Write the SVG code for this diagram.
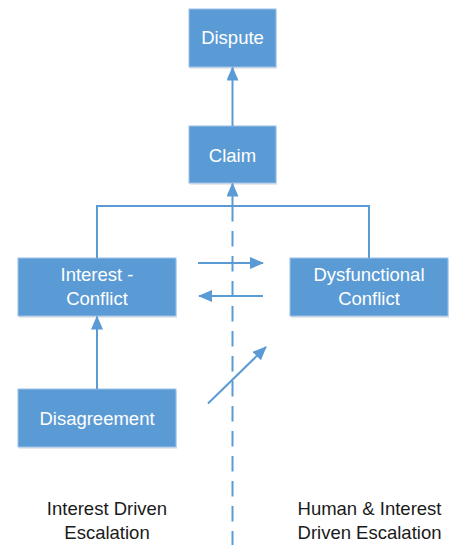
<svg xmlns="http://www.w3.org/2000/svg" width="449" height="545" viewBox="0 0 449 545">
  <style>
    .box { fill: #5B9BD5; stroke: #9CC0E6; stroke-width: 1; }
    .shadow { fill: #D9D9D9; opacity: 0.6; }
    .lbl { font-family: "Liberation Sans", Arial, sans-serif; font-size: 18.5px; fill: #FFFFFF; text-anchor: middle; }
    .cap { font-family: "Liberation Sans", Arial, sans-serif; font-size: 18.5px; fill: #1A1A1A; text-anchor: middle; }
    .link { fill: none; stroke: #5B9BD5; stroke-width: 2; }
    .divider { fill: none; stroke: #5B9BD5; stroke-width: 2; stroke-dasharray: 15.5 9.5; }
  </style>
  <defs>
    <marker id="arrow" viewBox="0 0 14 12" refX="13" refY="6" markerWidth="14" markerHeight="12" markerUnits="userSpaceOnUse" orient="auto">
      <path d="M0,0 L14,6 L0,12 Z" fill="#5B9BD5"/>
    </marker>
  </defs>

  <rect width="449" height="545" fill="#FFFFFF"/>

  <!-- dashed separator between the two escalation zones -->
  <line class="divider" x1="232.5" y1="206" x2="232.5" y2="545"/>

  <g id="node-dispute">
    <rect class="shadow" x="190" y="11" width="87" height="58"/>
    <rect class="box" x="189" y="9" width="87" height="58"/>
    <text class="lbl" x="232.5" y="44">Dispute</text>
  </g>

  <g id="node-claim">
    <rect class="shadow" x="190" y="128" width="87" height="57"/>
    <rect class="box" x="189" y="126" width="87" height="57"/>
    <text class="lbl" x="232.5" y="162">Claim</text>
  </g>

  <g id="node-interest-conflict">
    <rect class="shadow" x="19" y="260" width="158" height="58"/>
    <rect class="box" x="18" y="258" width="158" height="58"/>
    <text class="lbl" x="97" y="281">Interest -</text>
    <text class="lbl" x="97" y="305">Conflict</text>
  </g>

  <g id="node-dysfunctional-conflict">
    <rect class="shadow" x="291" y="260" width="158" height="58"/>
    <rect class="box" x="290" y="258" width="158" height="58"/>
    <text class="lbl" x="369" y="281">Dysfunctional</text>
    <text class="lbl" x="369" y="305">Conflict</text>
  </g>

  <g id="node-disagreement">
    <rect class="shadow" x="19" y="391" width="158" height="58"/>
    <rect class="box" x="18" y="389" width="158" height="58"/>
    <text class="lbl" x="97" y="425">Disagreement</text>
  </g>

  <g id="connectors">
    <line class="link" x1="232.5" y1="126" x2="232.5" y2="67.5" marker-end="url(#arrow)"/>
    <polyline class="link" points="97,258 97,206 369,206 369,258"/>
    <line class="link" x1="232.5" y1="206" x2="232.5" y2="183.5" marker-end="url(#arrow)"/>
    <line class="link" x1="97" y1="389" x2="97" y2="316.5" marker-end="url(#arrow)"/>
    <line class="link" x1="198" y1="263" x2="263" y2="263" marker-end="url(#arrow)"/>
    <line class="link" x1="263" y1="296" x2="199" y2="296" marker-end="url(#arrow)"/>
    <line class="link" x1="208" y1="403.5" x2="266" y2="347" marker-end="url(#arrow)"/>
  </g>

  <g id="zone-labels">
    <text class="cap" x="107" y="515">Interest Driven</text>
    <text class="cap" x="107" y="539">Escalation</text>
    <text class="cap" x="369.5" y="515">Human &amp; Interest</text>
    <text class="cap" x="369.5" y="539">Driven Escalation</text>
  </g>
</svg>
